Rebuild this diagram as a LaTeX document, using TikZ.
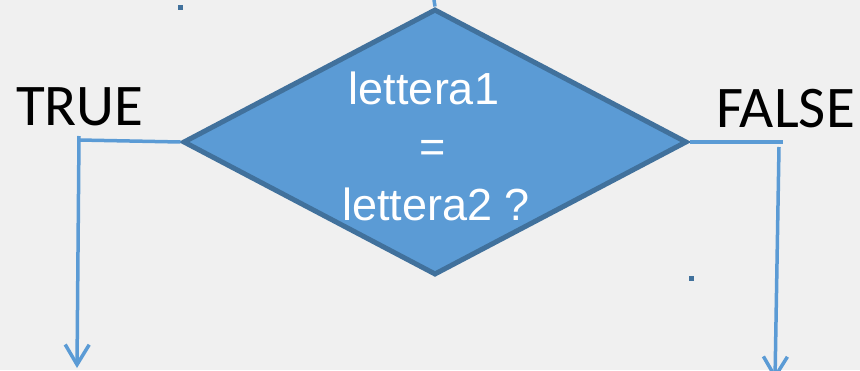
\documentclass[tikz,border=0pt]{standalone}
\usepackage{fontspec}
\setmainfont{Liberation Sans}
\newfontfamily\labelfont{Carlito}
\usetikzlibrary{shapes.geometric,arrows.meta}

\definecolor{boxblue}{HTML}{5B9BD5}
\definecolor{edgeblue}{HTML}{41719C}
\definecolor{paper}{HTML}{F0F0F0}

\begin{document}
\begin{tikzpicture}[
  x=1pt, y=-1pt,
  every node/.style={inner sep=0pt},
  test/.style={diamond, aspect=1.89, draw=edgeblue, fill=boxblue, line width=5pt,
               minimum width=504pt, minimum height=266pt},
  cond/.style={text=white, align=center, font=\fontsize{45}{58}\selectfont},
  branch/.style={anchor=base west, font=\labelfont\fontsize{59}{64}\selectfont},
  flow/.style={draw=boxblue, line width=3.5pt},
  arrowhead/.style={flow, -{Straight Barb[length=20pt, width=24pt, line width=3.5pt]}},
  dot/.style={fill=edgeblue, minimum size=5pt}
]
\fill[paper] (0,0) rectangle (860,370);
\useasboundingbox (0,0) rectangle (860,370);

% the test
\node[test] (test) at (435,142) {};
\node[cond] (cond) at (433,146) {lettera1\hspace*{18pt}\\=\\\hspace*{6pt}lettera2 ?};
\coordinate (in) at (434,0);
\draw[flow] (in) -- (test.north);

% stray marks
\node[dot] (dotA) at (180,7) {};
\node[dot] (dotB) at (691,278) {};

% branch labels
\node[branch] (yes) at (16,125) {TRUE};
\node[branch] (no) at (716,127) {FALSE};

% TRUE branch
\coordinate (yescorner) at (79,140);
\coordinate (yestop) at (79,136);
\coordinate (yesend) at (77,368);
\draw[flow] (test.west) -- (yescorner);
\draw[arrowhead] (yestop) -- (yesend);

% FALSE branch
\coordinate (nocorner) at (783,142);
\coordinate (notop) at (779,147);
\coordinate (noend) at (775,380);
\draw[flow] (test.east) -- (nocorner);
\draw[arrowhead] (notop) -- (noend);
\end{tikzpicture}
\end{document}
